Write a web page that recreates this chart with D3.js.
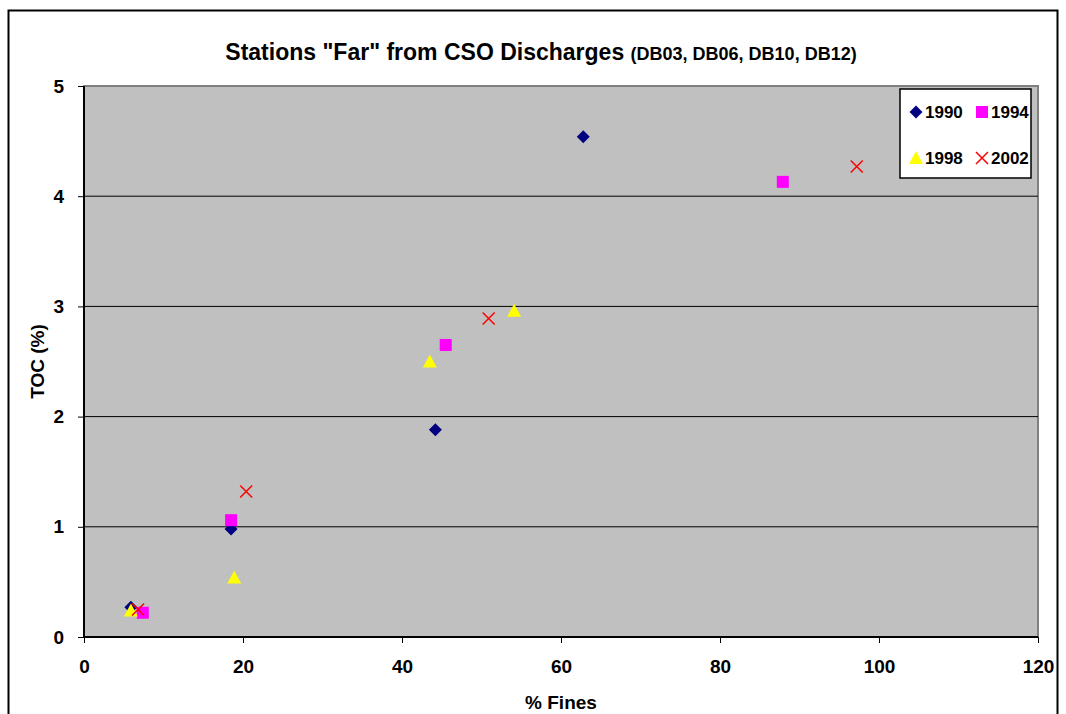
<!DOCTYPE html>
<html>
<head>
<meta charset="utf-8">
<script src="https://cdn.jsdelivr.net/npm/d3@7"></script>
<style>
  body { margin: 0; background: #fff; }
  text { font-family: "Liberation Sans", Arial, sans-serif; font-weight: bold; }
</style>
</head>
<body>
<svg id="chart" width="1066" height="714"></svg>
<script>
const xTicks = [0, 20, 40, 60, 80, 100, 120]
const yTicks = [0, 1, 2, 3, 4, 5]

const fines1990 = [5.9, 18.5, 44.2, 62.8]
const toc1990 = [0.27, 0.98, 1.88, 4.54]
const fines1994 = [7.4, 18.5, 45.5, 87.9]
const toc1994 = [0.22, 1.06, 2.65, 4.13]
const fines1998 = [5.9, 18.9, 43.5, 54.1]
const toc1998 = [0.24, 0.54, 2.50, 2.96]
const fines2002 = [6.8, 20.4, 50.9, 97.2]
const toc2002 = [0.25, 1.32, 2.89, 4.27]

const series = [
  { name: "1990", xs: fines1990, ys: toc1990, shape: "diamond", color: "#000080" },
  { name: "1994", xs: fines1994, ys: toc1994, shape: "square", color: "#ff00ff" },
  { name: "1998", xs: fines1998, ys: toc1998, shape: "triangle", color: "#ffff00" },
  { name: "2002", xs: fines2002, ys: toc2002, shape: "cross", color: "#ff0000" }
]

const svg = d3.select("#chart")
const margin = { top: 86, left: 84, right: 28, bottom: 77 }
const width = 1066 - margin.left - margin.right
const height = 714 - margin.top - margin.bottom

// outer chart border
svg.append("rect")
    .attr("x", 8.5).attr("y", 10.5)
    .attr("width", 1049).attr("height", 720)
    .attr("fill", "#fff").attr("stroke", "#000").attr("stroke-width", 2)

const x = d3.scaleLinear().domain([0, 120]).range([0, width])
const y = d3.scaleLinear().domain([0, 5]).range([height, 0])

const g = svg.append("g")
    .attr("transform", "translate(" + margin.left + "," + margin.top + ")")

g.append("rect")
    .attr("width", width).attr("height", height)
    .attr("fill", "#c0c0c0").attr("stroke", "#808080").attr("stroke-width", 2)

g.selectAll(".grid")
  .data(yTicks.filter(d => d > 0 && d < 5))
  .enter().append("line")
    .attr("x1", 0).attr("x2", width)
    .attr("y1", d => y(d)).attr("y2", d => y(d))
    .attr("stroke", "#000").attr("stroke-width", 1)

const xAxis = g.append("g")
    .attr("transform", "translate(0," + height + ")")
    .call(d3.axisBottom(x).tickValues(xTicks).tickSize(6).tickPadding(17).tickFormat(d3.format("d")))
const yAxis = g.append("g")
    .call(d3.axisLeft(y).tickValues(yTicks).tickSize(6).tickPadding(14).tickFormat(d3.format("d")))

;[xAxis, yAxis].forEach(a => {
  a.select(".domain").attr("stroke", "#000").attr("stroke-width", 2)
  a.selectAll(".tick line").attr("stroke", "#000")
  a.selectAll(".tick text")
    .attr("fill", "#000")
    .style("font-size", "19px")
    .style("font-family", "'Liberation Sans', Arial, sans-serif")
    .style("font-weight", "bold")
})
yAxis.select(".domain").attr("d", "M0," + height + "V0")
xAxis.select(".domain").attr("d", "M0,0H" + width)

function marker(sel, shape, color) {
  if (shape === "diamond") {
    sel.append("path").attr("d", "M0,-6.5L6.5,0L0,6.5L-6.5,0Z").attr("fill", color)
  } else if (shape === "square") {
    sel.append("rect").attr("x", -6).attr("y", -6).attr("width", 12).attr("height", 12).attr("fill", color)
  } else if (shape === "triangle") {
    sel.append("path").attr("d", "M0,-7L7,6L-7,6Z").attr("fill", color)
  } else {
    sel.append("path").attr("d", "M-6,-6L6,6M-6,6L6,-6").attr("stroke", color).attr("stroke-width", 1.5).attr("fill", "none")
  }
}

series.forEach(s => {
  g.selectAll(".pt" + s.name)
    .data(s.xs.map((v, i) => [v, s.ys[i]]))
    .enter().append("g")
      .attr("transform", d => "translate(" + x(d[0]) + "," + y(d[1]) + ")")
      .each(function() { marker(d3.select(this), s.shape, s.color) })
})

// legend
const legend = svg.append("g").attr("transform", "translate(900,89)")
legend.append("rect")
    .attr("width", 131).attr("height", 89)
    .attr("fill", "#fff").attr("stroke", "#000").attr("stroke-width", 1.5)
series.forEach((s, i) => {
  const lx = 16 + (i % 2) * 66
  const ly = 23 + Math.floor(i / 2) * 46
  const item = legend.append("g").attr("transform", "translate(" + lx + "," + ly + ")")
  marker(item, s.shape, s.color)
  item.append("text")
    .attr("x", 9).attr("y", 6)
    .style("font-size", "17px")
    .text(s.name)
})

// title
const title = svg.append("text")
    .attr("x", 541).attr("y", 60)
    .attr("text-anchor", "middle")
title.append("tspan").style("font-size", "23px").text("Stations \"Far\" from CSO Discharges ")
title.append("tspan").style("font-size", "18px").text("(DB03, DB06, DB10, DB12)")

svg.append("text")
    .attr("x", margin.left + width / 2).attr("y", 709)
    .attr("text-anchor", "middle")
    .style("font-size", "19px")
    .text("% Fines")

svg.append("text")
    .attr("transform", "translate(44," + (margin.top + height / 2) + ") rotate(-90)")
    .attr("text-anchor", "middle")
    .style("font-size", "19px")
    .text("TOC (%)")
</script>
</body>
</html>
